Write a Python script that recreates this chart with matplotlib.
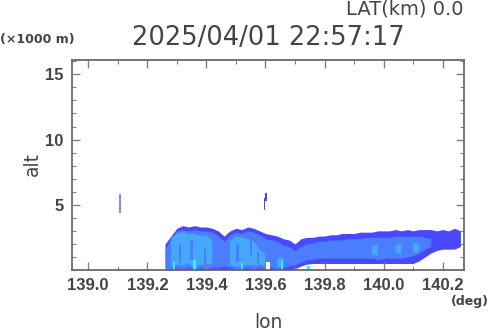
import numpy as np
import matplotlib
matplotlib.use("Agg")
import matplotlib.pyplot as plt
from matplotlib.ticker import MultipleLocator

# ---------------- data ----------------
lon = [139.26, 139.28, 139.30, 139.32, 139.34, 139.36, 139.38, 139.40, 139.42, 139.44,
       139.46, 139.48, 139.50, 139.52, 139.54, 139.56, 139.58, 139.60, 139.62, 139.64,
       139.66, 139.68, 139.70, 139.72, 139.74, 139.76, 139.78, 139.80, 139.82, 139.84,
       139.86, 139.88, 139.90, 139.92, 139.94, 139.96, 139.98, 140.00, 140.02, 140.04,
       140.06, 140.08, 140.10, 140.12, 140.14, 140.16, 140.18, 140.20, 140.22, 140.24,
       140.26]

outer_top = [2.0, 2.6, 3.2, 3.4, 3.3, 3.4, 3.3, 3.3, 3.2, 3.0,
             2.6, 3.0, 3.2, 3.1, 3.3, 3.2, 3.0, 2.8, 2.7, 2.6,
             2.4, 2.3, 2.0, 2.4, 2.5, 2.5, 2.6, 2.6, 2.7, 2.7,
             2.8, 2.8, 2.8, 2.9, 2.9, 2.9, 3.0, 3.0, 3.0, 3.1,
             3.0, 3.1, 3.0, 3.1, 3.1, 3.1, 3.0, 3.1, 3.0, 3.2,
             3.0]
outer_bot = [0.0, 0.0, 0.0, 0.0, 0.0, 0.0, 0.0, 0.0, 0.0, 0.0,
             0.0, 0.0, 0.0, 0.0, 0.0, 0.0, 0.0, 0.0, 0.0, 0.0,
             0.0, 0.0, 0.1, 0.3, 0.45, 0.5, 0.5, 0.5, 0.5, 0.5,
             0.5, 0.5, 0.5, 0.5, 0.5, 0.5, 0.5, 0.5, 0.5, 0.5,
             0.5, 0.5, 0.5, 0.7, 1.0, 1.3, 1.5, 1.6, 1.6, 1.6,
             1.8]

nan = np.nan
mid_top = [1.6, 2.4, 3.0, 3.1, 3.0, 3.1, 3.0, 3.0, 2.9, 2.6,
           2.2, 2.7, 2.9, 2.8, 3.0, 2.9, 2.7, 2.4, 2.3, 2.2,
           1.9, 1.8, 1.5, 1.8, 2.0, 2.1, 2.2, 2.2, 2.3, 2.3,
           2.3, 2.4, 2.4, 2.4, 2.5, 2.5, 2.5, 2.5, 2.5, 2.6,
           2.6, 2.6, 2.6, 2.6, 2.5, 2.4, nan, nan, nan, nan,
           nan]
mid_bot = [0.1, 0.1, 0.2, 0.1, 0.2, 0.1, 0.2, 0.1, 0.2, 0.2,
           0.3, 0.2, 0.1, 0.1, 0.2, 0.1, 0.2, 0.1, 0.2, 0.1,
           0.2, 0.3, 0.4, 0.6, 0.8, 0.8, 0.9, 0.9, 0.9, 0.9,
           0.9, 0.9, 0.9, 0.9, 0.9, 0.9, 0.8, 0.9, 0.9, 0.9,
           0.9, 1.0, 1.1, 1.3, 1.6, 1.8, nan, nan, nan, nan,
           nan]

light_top = [nan, 2.4, 2.8, 2.9, 2.7, 2.8, 2.6, 2.7, 2.2, nan,
             nan, 2.2, 2.6, 2.5, 2.4, 2.2, 1.6, 1.2, nan, 0.9,
             1.0, nan, nan, nan, nan, nan, nan, nan, nan, nan,
             nan, nan, nan, nan, nan, 1.8, 2.0, nan, nan, 1.9,
             2.0, nan, 2.1, 2.0, nan, nan, nan, nan, nan, nan,
             nan]
light_bot = [nan, 0.3, 0.4, 0.3, 0.5, 0.2, 0.4, 0.3, 0.6, nan,
             nan, 0.4, 0.2, 0.3, 0.4, 0.3, 0.4, 0.3, nan, 0.2,
             0.2, nan, nan, nan, nan, nan, nan, nan, nan, nan,
             nan, nan, nan, nan, nan, 1.2, 1.1, nan, nan, 1.3,
             1.2, nan, 1.3, 1.4, nan, nan, nan, nan, nan, nan,
             nan]

# medium-level streaks inside the light cores
streak_lon = [139.31, 139.35, 139.395, 139.505, 139.55, 139.575]
streak_bot = [0.5, 0.8, 0.3, 0.6, 1.0, 0.5]
streak_top = [2.0, 2.3, 1.8, 2.0, 2.3, 1.4]

# strongest cores
core_lon = [139.29, 139.36, 139.52, 139.655, 139.745]
core_top = [0.6, 0.8, 0.5, 0.7, 0.3]

# echo-free notch
gap_lon = [139.608]
gap_top = [0.65]

# isolated small echoes aloft
iso_lon = [139.107, 139.597, 139.603]
iso_bot = [4.4, 4.6, 5.3]
iso_top = [5.8, 5.5, 5.9]
iso_col = ["#8a8aff", "#4848ff", "#4848ff"]

xticks = [139.0, 139.2, 139.4, 139.6, 139.8, 140.0, 140.2]
yticks = [5, 10, 15]

# ---------------- figure ----------------
W, H = 490, 331
fig = plt.figure(figsize=(W / 100, H / 100), dpi=100)
ax = fig.add_axes([72 / W, 1 - 270 / H, (464 - 72) / W, (270 - 60) / H])

C_OUT = "#4848ff"
C_MID = "#4a7eff"
C_LIGHT = "#44a8ff"
C_CORE = "#44e4ff"

ax.fill_between(lon, outer_bot, outer_top, color=C_OUT, lw=0)
ax.fill_between(lon, mid_bot, mid_top, color=C_MID, lw=0)
ax.fill_between(lon, light_bot, light_top, color=C_LIGHT, lw=0)
ax.bar(streak_lon, np.array(streak_top) - np.array(streak_bot), bottom=streak_bot,
       width=0.008, color=C_MID, lw=0)
ax.bar(core_lon, core_top, width=0.008, color=C_CORE, lw=0)
ax.bar(gap_lon, gap_top, width=0.012, color="white", lw=0)
ax.bar(iso_lon, np.array(iso_top) - np.array(iso_bot), bottom=iso_bot,
       width=0.006, color=iso_col, lw=0)

ax.set_xlim(138.945, 140.272)
ax.set_ylim(0, 16.1)
ax.set_xticks(xticks)
ax.set_yticks(yticks)
ax.xaxis.set_minor_locator(MultipleLocator(0.1))
ax.yaxis.set_minor_locator(MultipleLocator(1))

tick_font = dict(family="Liberation Sans", weight="bold", size=12)
ax.set_xticklabels([f"{v:.1f}" for v in xticks], fontdict=tick_font, color="#444444")
ax.set_yticklabels([str(v) for v in yticks], fontdict=tick_font, color="#444444")

ax.tick_params(which="both", direction="in", top=True, right=True, color="#808080")
ax.tick_params(which="major", length=6, width=1)
ax.tick_params(which="minor", length=3, width=0.8)
ax.tick_params(axis="x", pad=6)
ax.tick_params(axis="y", pad=6)
for s in ax.spines.values():
    s.set_color("#6a6a6a")
    s.set_linewidth(1.3)

def px(x, y):
    return x / W, 1 - y / H

fig.text(*px(268, 38), "2025/04/01 22:57:17", ha="center", va="center",
         family="DejaVu Sans", size=18.5, color="#444444")
fig.text(*px(463, 9), "LAT(km) 0.0", ha="right", va="center",
         family="DejaVu Sans", size=14, color="#444444")
fig.text(*px(0, 39), "(\u00d71000 m)", ha="left", va="center",
         family="DejaVu Sans", weight="bold", size=9, color="#444444")
fig.text(*px(32, 164), "alt", ha="center", va="center", rotation=90,
         family="DejaVu Sans", size=13.5, color="#444444")
fig.text(*px(268, 323), "lon", ha="center", va="center",
         family="DejaVu Sans", size=13.5, color="#444444")
fig.text(*px(489, 301), "(deg)", ha="right", va="center",
         family="DejaVu Sans", weight="bold", size=9, color="#444444")

fig.savefig("out.png", dpi=100)
